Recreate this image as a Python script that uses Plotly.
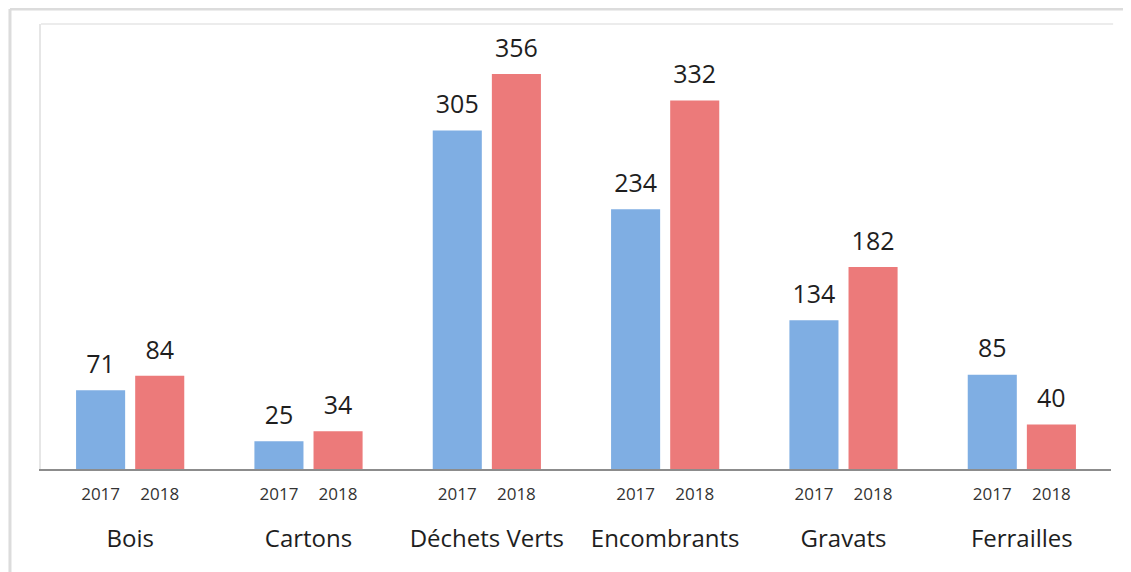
import plotly.graph_objects as go

categories = ["Bois", "Cartons", "Déchets Verts", "Encombrants", "Gravats", "Ferrailles"]
years = ["2017", "2018"]
values_2017 = [71, 25, 305, 234, 134, 85]
values_2018 = [84, 34, 356, 332, 182, 40]

BARGAP = 0.337
BARGROUPGAP = 0.17
FONT = "Open Sans"
colors = {"2017": "#7FAEE3", "2018": "#EC7A7A"}

fig = go.Figure()
for yr, vals in zip(years, [values_2017, values_2018]):
    fig.add_trace(go.Bar(
        x=categories, y=vals, name=yr,
        marker=dict(color=colors[yr], line=dict(width=0)),
        hoverinfo="x+y",
    ))

# bar centre offsets (in category units) for grouped bars
off = (1 - BARGAP) / 4
offsets = {"2017": -off, "2018": off}

# value labels above the bars
for yr, vals in zip(years, [values_2017, values_2018]):
    fig.add_trace(go.Scatter(
        x=[i + offsets[yr] for i in range(len(categories))], y=vals,
        xaxis="x2", mode="markers+text", text=[str(v) for v in vals],
        textposition="top center",
        textfont=dict(size=25, color="#1e1e1e", family=FONT),
        marker=dict(size=16, opacity=0), showlegend=False, hoverinfo="skip",
        cliponaxis=False,
    ))

tickvals = []
ticktext = []
for i in range(len(categories)):
    for yr in years:
        tickvals.append(i + offsets[yr])
        ticktext.append(yr)

fig.update_layout(
    width=1123, height=564,
    margin=dict(l=33, r=20, t=16, b=103),
    paper_bgcolor="white", plot_bgcolor="white",
    barmode="group", bargap=BARGAP, bargroupgap=BARGROUPGAP,
    showlegend=False,
    font=dict(family=FONT, color="#222222"),
    xaxis=dict(
        type="category", showgrid=False, zeroline=False,
        showline=True, linecolor="#8c8c8c", linewidth=1.5,
        ticks="", tickfont=dict(size=24, color="#1e1e1e", family=FONT),
        ticklabelstandoff=47,
    ),
    xaxis2=dict(
        overlaying="x", anchor="y", side="bottom",
        range=[-0.5, len(categories) - 0.5],
        tickvals=tickvals, ticktext=ticktext, ticks="",
        tickfont=dict(size=17, color="#333333", family=FONT),
        showgrid=False, zeroline=False, showline=False,
        ticklabelstandoff=13,
    ),
    yaxis=dict(range=[0, 401], visible=True, showticklabels=False, ticks="",
               showgrid=False, zeroline=False,
               showline=True, linecolor="#e6e6e6", linewidth=1.5),
    shapes=[
        dict(type="line", xref="paper", yref="paper", x0=0, x1=1.002, y0=1, y1=1,
             line=dict(color="#e6e6e6", width=1.5)),
        dict(type="line", xref="paper", yref="paper", x0=-0.029, x1=1.02, y0=1.0337, y1=1.0337,
             line=dict(color="#dcdcdc", width=3)),
        dict(type="line", xref="paper", yref="paper", x0=-0.029, x1=-0.029, y0=1.0337, y1=-0.24,
             line=dict(color="#dcdcdc", width=3)),
    ],
)

fig.write_html("out.html")
